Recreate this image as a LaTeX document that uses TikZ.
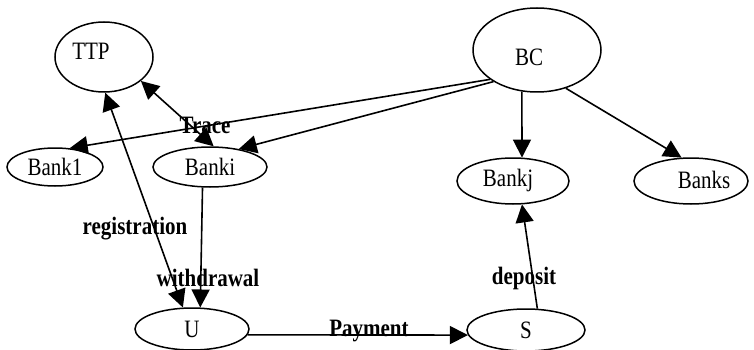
\documentclass[tikz,border=0pt]{standalone}
\usepackage{fontspec}
\usetikzlibrary{shapes.geometric,arrows.meta}
\newfontfamily\nodefontfam[FakeStretch=0.84]{Liberation Serif}
\newcommand\nodefnt{\nodefontfam\fontsize{25pt}{28pt}\selectfont}
\newcommand\labfnt{\nodefontfam\bfseries\fontsize{25pt}{28pt}\selectfont}
\tikzset{
  ell/.style={draw, ellipse, line width=1.5pt, inner sep=0pt, font=\nodefnt},
  lab/.style={font=\labfnt, anchor=base, inner sep=0pt},
  txt/.style={font=\nodefnt, anchor=base, inner sep=0pt},
  tip/.tip={Triangle[length=18pt,width=18pt]},
  arr/.style={-tip, line width=1.6pt},
  darr/.style={tip-tip, line width=1.6pt}
}
\begin{document}
\begin{tikzpicture}[x=1pt,y=-1pt]
\useasboundingbox (0,0) rectangle (754,350);
% nodes
\node[ell, minimum width=98pt, minimum height=70pt,
  label={[txt,xshift=-13pt,yshift=6pt]center:TTP}] (TTP) at (104,57) {};
\node[ell, minimum width=128pt, minimum height=84pt,
  label={[txt,xshift=-8pt,yshift=-7pt]center:BC}] (BC) at (537,50) {};
\node[ell, minimum width=96pt, minimum height=38pt] (Bank1) at (55,167) {Bank1};
\node[ell, minimum width=114pt, minimum height=40pt] (Banki) at (210,167) {Banki};
\node[ell, minimum width=112pt, minimum height=46pt,
  label={[txt,xshift=-5pt,yshift=1pt]center:Bankj}] (Bankj) at (513,181) {};
\node[ell, minimum width=114pt, minimum height=46pt,
  label={[txt,xshift=13pt,yshift=1pt]center:Banks}] (Banks) at (691,181) {};
\node[ell, minimum width=114pt, minimum height=42pt] (U) at (192,329) {U};
\node[ell, minimum width=118pt, minimum height=42pt] (S) at (526,330) {S};
% connectors
\draw[arr] (BC.212) -- (Bank1.52);
\draw[arr] (BC.216) -- (Banki.32);
\draw[arr] (BC.250) -- (Bankj.69);
\draw[arr] (BC.307) -- (Banks.112);
\draw[darr] (TTP.327) -- (Banki.80);
\draw[darr] (TTP.272) -- (U.113);
\draw[arr] (Banki.250) -- (U.69);
\draw[arr] (U.-6) -- (S.185);
\draw[arr] (S.62) -- (Bankj.291);
% labels
\node[lab] (trace) at (205,133) {Trace};
\node[lab] (reg) at (135,234) {registration};
\node[lab] (wd) at (208,286) {withdrawal};
\node[lab] (pay) at (369,336) {Payment};
\node[lab] (dep) at (524,284) {deposit};
\end{tikzpicture}
\end{document}
